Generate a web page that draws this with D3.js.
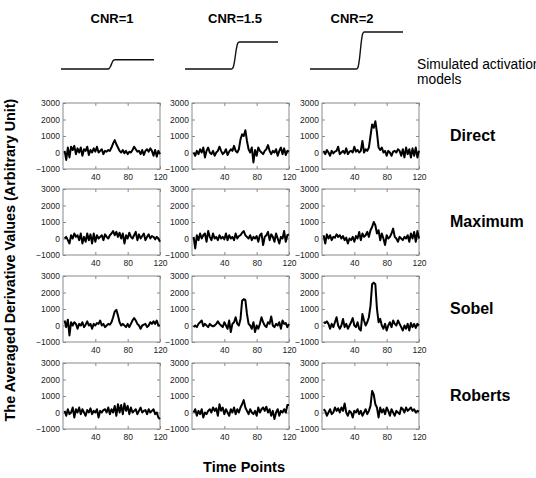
<!DOCTYPE html>
<html>
<head>
<meta charset="utf-8">
<title>Averaged Derivative Values</title>
<script src="https://cdn.jsdelivr.net/npm/d3@7"></script>
<style>
    body { margin: 0; background: #fff; }
    text { font-family: "Liberation Sans", Arial, sans-serif; }
</style>
</head>
<body>
<script>
    // column / row labels
    var cnrLabels = ["CNR=1", "CNR=1.5", "CNR=2"];
    var methods = ["Direct", "Maximum", "Sobel", "Roberts"];

    // ticks
    var xTicks = [40, 80, 120];
    var yTicks = [-1000, 0, 1000, 2000, 3000];

    // sampled every 2nd time point
    var timePoints = d3.range(2, 121, 2);

    // simulated activation model (step shape) and its height per CNR
    var modelTime = [0, 60, 62, 64, 66, 68, 70, 120];
    var modelShape = [0, 0, 0.05, 0.3, 0.7, 0.95, 1, 1];
    var modelAmp = [0.25, 0.73, 1];

    // values
    var directCnr1 = [100, -450, 300, -300, 350, 150, 400, -100, 250, 0, 300, -200, 200, 100, 350, -150, 150, 0, 250, 50,
        350, 0, 100, 200, -100, 100, 50, 150, 100, 300, 550, 750, 500, 300, 100, 0, 150, -50, 100, -100,
        50, 0, 150, 350, 200, 50, 100, -100, 150, -150, 100, 200, 50, 250, 100, -200, 150, -250, 100, -100];
    var directCnr15 = [0, -200, 100, -100, 200, 0, 300, -300, 100, 300, 0, -100, 100, -200, 0, 100, 350, 100, -100, 0,
        200, -150, 50, 200, 100, 400, 100, 0, 200, 800, 1100, 1000, 1350, 700, 200, 0, 300, -600, 150, -200,
        300, 100, 0, -100, 100, 200, 450, 100, -100, 100, 0, 200, -200, 100, 300, -100, 250, -150, 100, 50];
    var directCnr2 = [100, -100, 150, 0, -200, 100, -50, 50, 100, 350, -100, 0, 100, -50, 250, -100, 50, 100, 0, 350,
        50, 150, 0, 100, 700, 0, 200, 100, 300, 1000, 1700, 1500, 1900, 1200, 300, 150, 300, 0, 100, -200,
        100, 0, -200, 50, 100, 0, 200, 100, -200, 200, -300, 300, -100, 200, -300, 250, -200, 300, -300, 100];

    var maximumCnr1 = [0, 100, -100, -300, 200, 0, 300, 100, 200, -100, 300, -300, 100, -200, 300, -100, 250, -300, 300, -200,
        200, 0, 100, 200, -100, 250, 100, 0, 200, 300, 450, 200, 400, 100, 350, 0, 300, -300, 200, 0,
        350, 100, 0, 200, 400, -100, 250, 0, 150, 300, -100, 100, 250, 0, 150, 100, -50, 100, 0, -200];
    var maximumCnr15 = [100, -600, 200, -100, 300, 0, 200, 300, -200, 450, 100, -100, 300, 0, 100, -100, 200, 0, 100, -50,
        300, -100, 200, 0, 100, -100, 300, 0, 150, 200, 350, 450, 200, 100, 0, 200, -100, 100, 0, 150,
        -200, 200, 300, -400, 100, 200, 400, -100, 250, 100, -200, 300, 0, -300, 100, 0, 450, -200, 200, 250];
    var maximumCnr2 = [200, -300, 250, 0, 200, -100, 100, 50, 250, 100, 200, 0, 150, -100, 50, -300, 0, -100, 100, -200,
        150, 0, 400, -100, 300, 100, 200, 400, 100, 500, 700, 1000, 800, 300, 500, -100, 300, 0, -400, 200,
        0, 100, 300, 600, 100, 0, -200, 100, 0, -100, 100, 0, 200, -200, 300, 0, 400, -200, 450, 0];

    var sobelCnr1 = [300, -100, 350, -600, 200, 0, 200, 100, -200, 100, 0, 200, -100, 50, 250, 0, 100, -200, 100, 0,
        150, 100, 300, 0, 100, -100, 0, 100, 50, 200, 500, 850, 950, 600, 200, 0, 100, 0, -100, 100,
        -100, 100, 300, 450, 300, 100, 0, -200, 0, 50, 100, -100, 0, 200, 100, 250, 100, 300, 0, 0];
    var sobelCnr15 = [-100, 0, -100, 100, 200, 300, -50, 100, 0, -100, 100, 0, -50, 0, 100, 250, 100, 0, -100, 200,
        0, -200, 300, -400, 100, 200, 500, 100, 0, 400, 1500, 1600, 1550, 700, 100, 0, -200, 200, -400, 0,
        -200, 100, 500, 200, 0, -100, 200, 100, 550, 0, -100, 100, 0, 200, -200, 300, 100, 150, -100, 100];
    var sobelCnr2 = [200, 150, 250, 100, -200, 100, -100, 200, 500, 0, -200, 0, 400, -100, 100, -200, 0, 200, 450, 0,
        -100, 200, -200, -300, 700, 300, 0, 200, 500, 1200, 2500, 2600, 2500, 1000, 200, 400, 0, -200, 100, -300,
        0, 200, -100, 300, 100, 0, 300, 100, -100, -300, 0, -200, 100, -300, 150, -100, 100, -150, 100, 0];

    var robertsCnr1 = [100, -200, 200, -100, 0, 300, -300, 200, 0, 300, -100, 200, 0, -200, 150, 0, 250, -100, 100, 0,
        200, -300, 100, 0, 150, 200, 0, 300, -100, 200, 0, 400, -200, 500, 0, 450, -100, 550, 100, 400,
        -100, 300, 0, 100, 200, -100, 100, 300, 0, 100, 150, -100, 200, 0, 100, 200, -100, 0, -300, -400];
    var robertsCnr15 = [0, 200, -200, 100, -100, 200, -300, 0, -100, 100, 200, 0, 300, 100, 250, -200, 500, 100, 300, -100,
        200, 0, -200, 200, 0, 300, -100, 200, 0, 300, 500, 750, 300, 100, -100, 200, 0, -100, 100, -200,
        300, 0, 200, 300, 100, 350, 0, 200, -200, 100, -400, 0, 200, -200, 100, 0, 200, 0, 450, 450];
    var robertsCnr2 = [200, 100, -200, 0, 200, -100, 0, 300, 100, 250, 0, 300, 100, 550, 0, -200, 100, 0, -300, 100,
        0, 200, -100, 100, -200, 0, 200, -100, 100, 400, 1300, 1100, 500, 300, -300, 300, 0, 200, -100, 300,
        100, -200, 200, 0, -200, 100, 0, -100, 300, 200, 0, 300, 100, 200, 300, 100, 200, 0, 100, 50];

    var series = [
        [directCnr1, directCnr15, directCnr2],
        [maximumCnr1, maximumCnr15, maximumCnr2],
        [sobelCnr1, sobelCnr15, sobelCnr2],
        [robertsCnr1, robertsCnr15, robertsCnr2]
    ];

    // layout
    var svgWidth = 536;
    var svgHeight = 478;
    var colX = [63, 192, 322];
    var rowY = [103, 189, 276, 363];
    var titleX = [112, 235, 352];
    var modelLeft = [61, 185, 310];
    var plotW = 97;
    var plotH = 66;

    var svg = d3.select("body")
        .append("svg")
        .attr("width", svgWidth)
        .attr("height", svgHeight);

    svg.append("rect")
        .attr("width", svgWidth)
        .attr("height", svgHeight)
        .attr("fill", "#fff");

    var xScale = d3.scaleLinear().domain([0, 120]).range([0, plotW]);
    var yScale = d3.scaleLinear().domain([-1000, 3000]).range([plotH, 0]);

    var line = d3.line()
        .x(function (d, i) { return xScale(timePoints[i]); })
        .y(function (d) { return yScale(d); });

    // column titles
    cnrLabels.forEach(function (lab, c) {
        svg.append("text")
            .attr("x", titleX[c])
            .attr("y", 23)
            .attr("text-anchor", "middle")
            .attr("font-size", 13)
            .attr("font-weight", "bold")
            .text(lab);
    });

    // activation models
    var modelX = d3.scaleLinear().domain([0, 120]).range([0, 93]);
    var modelY = d3.scaleLinear().domain([0, 1]).range([69, 32]);
    modelAmp.forEach(function (amp, c) {
        var mline = d3.line()
            .curve(d3.curveMonotoneX)
            .x(function (d, i) { return modelLeft[c] + modelX(modelTime[i]); })
            .y(function (d) { return modelY(d * amp); });
        svg.append("path")
            .datum(modelShape)
            .attr("d", mline)
            .attr("fill", "none")
            .attr("stroke", "#111")
            .attr("stroke-width", 1.4);
    });

    svg.append("text").attr("x", 417).attr("y", 69).attr("font-size", 13.8).text("Simulated activation");
    svg.append("text").attr("x", 417).attr("y", 84).attr("font-size", 13.8).text("models");

    // panels
    methods.forEach(function (m, r) {
        series[r].forEach(function (vals, c) {
            var g = svg.append("g")
                .attr("transform", "translate(" + colX[c] + "," + rowY[r] + ")");

            g.append("rect")
                .attr("width", plotW)
                .attr("height", plotH)
                .attr("fill", "#fff")
                .attr("stroke", "#8a8a8a")
                .attr("stroke-width", 1);

            var xb = g.append("g")
                .attr("transform", "translate(0," + plotH + ")")
                .call(d3.axisBottom(xScale).tickValues(xTicks).tickSize(-3).tickPadding(5));
            var yl = g.append("g")
                .call(d3.axisLeft(yScale).tickValues(yTicks).tickSize(-3).tickPadding(3).tickFormat(d3.format("d")));
            var xt = g.append("g")
                .call(d3.axisTop(xScale).tickValues(xTicks).tickSize(-3).tickFormat(""));
            var yr = g.append("g")
                .attr("transform", "translate(" + plotW + ",0)")
                .call(d3.axisRight(yScale).tickValues(yTicks).tickSize(-3).tickFormat(""));

            [xb, yl, xt, yr].forEach(function (a) {
                a.select(".domain").remove();
                a.selectAll(".tick line").attr("stroke", "#8a8a8a");
                a.selectAll("text")
                    .attr("fill", "#222")
                    .attr("font-size", 8.5)
                    .attr("font-family", "'Liberation Sans', Arial, sans-serif");
            });

            g.append("path")
                .datum(vals)
                .attr("d", line)
                .attr("fill", "none")
                .attr("stroke", "#000")
                .attr("stroke-width", 2)
                .attr("stroke-linejoin", "round");
        });

        // row label
        svg.append("text")
            .attr("x", 450)
            .attr("y", rowY[r] + plotH / 2 + 5)
            .attr("font-size", 16)
            .attr("font-weight", "bold")
            .text(m);
    });

    // axis titles
    svg.append("text")
        .attr("transform", "translate(15,260) rotate(-90)")
        .attr("text-anchor", "middle")
        .attr("font-size", 14.4)
        .attr("font-weight", "bold")
        .text("The Averaged Derivative Values (Arbitrary Unit)");

    svg.append("text")
        .attr("x", 244)
        .attr("y", 472)
        .attr("text-anchor", "middle")
        .attr("font-size", 14.5)
        .attr("font-weight", "bold")
        .text("Time Points");
</script>
</body>
</html>
